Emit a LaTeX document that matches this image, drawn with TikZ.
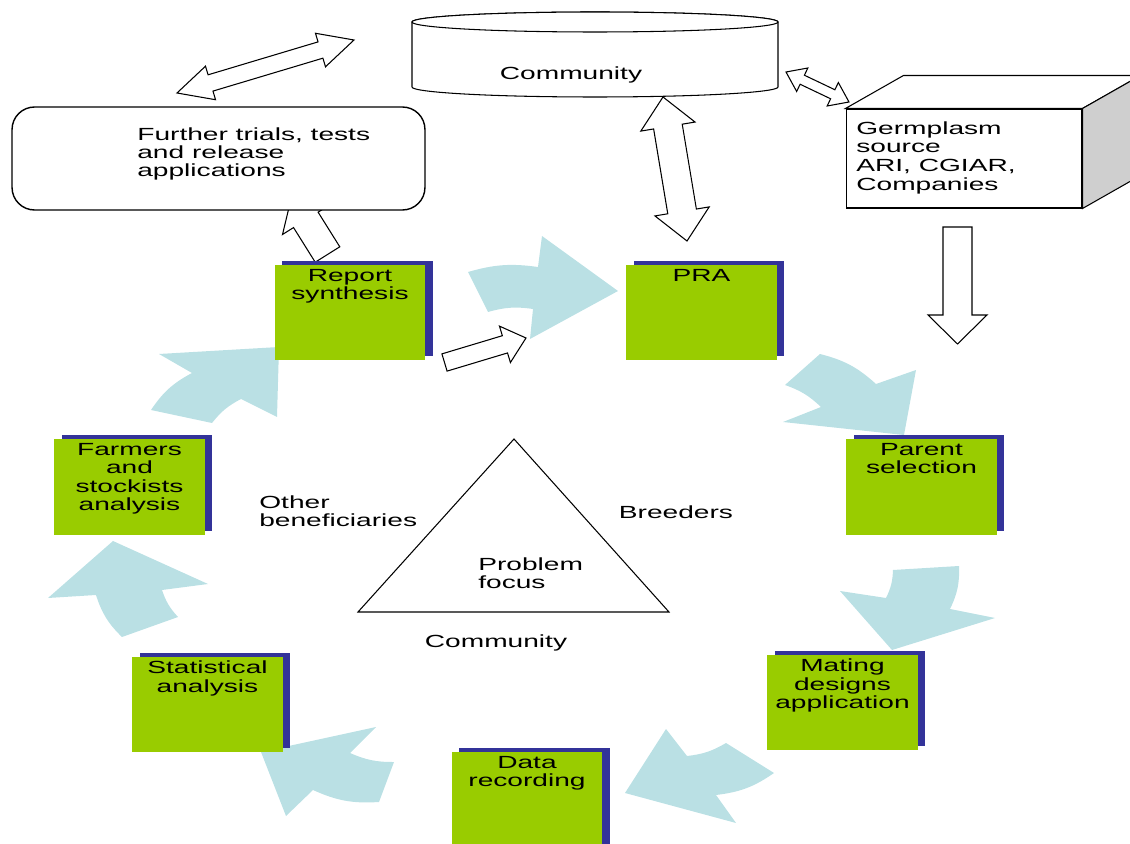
\documentclass[tikz,border=0pt]{standalone}
\usepackage{fontspec}
\setmainfont{Liberation Sans}[FakeStretch=1.6]
\usepackage{tikz}
\usetikzlibrary{calc,shadows,positioning}
\definecolor{stagegreen}{HTML}{99CC00}
\definecolor{stageshadow}{HTML}{333399}
\definecolor{cycblue}{HTML}{BAE0E4}
\definecolor{sidegray}{HTML}{CFCFCF}
\tikzset{
  outline/.style={draw=black, line width=0.6pt, fill=white, line join=miter},
  stage/.style={fill=stagegreen, minimum width=3.02cm, minimum height=1.92cm, inner sep=0pt,
    drop shadow={shadow xshift=0.15cm, shadow yshift=0.08cm, fill=stageshadow, opacity=1}},
  stagelbl/.style={anchor=north, align=center, inner sep=2.6pt},
  cyc/.style={fill=cycblue, draw=none},
  txt/.style={inner sep=0pt, align=left},
}
\newcommand{\blockarr}[5]{%
  \coordinate (ba-h) at ($(#2)!#5!(#1)$);
  \draw[outline] ($(#1)!#3!90:(#2)$) -- ($(ba-h)!#3!90:(#2)$) -- ($(ba-h)!#4!90:(#2)$) -- (#2)
    -- ($(ba-h)!#4!-90:(#2)$) -- ($(ba-h)!#3!-90:(#2)$) -- ($(#1)!#3!-90:(#2)$) -- cycle;
}
\newcommand{\dblarr}[5]{%
  \coordinate (da-a) at ($(#1)!#5!(#2)$);
  \coordinate (da-b) at ($(#2)!#5!(#1)$);
  \draw[outline] (#1) -- ($(da-a)!#4!90:(#2)$) -- ($(da-a)!#3!90:(#2)$) -- ($(da-b)!#3!90:(#2)$)
    -- ($(da-b)!#4!90:(#2)$) -- (#2) -- ($(da-b)!#4!-90:(#2)$) -- ($(da-b)!#3!-90:(#2)$)
    -- ($(da-a)!#3!-90:(#2)$) -- ($(da-a)!#4!-90:(#2)$) -- cycle;
}

\begin{document}
\begin{tikzpicture}[x=0.02cm, y=-0.02cm, font=\fontsize{10}{10.4}\selectfont]
  \useasboundingbox (0,0) rectangle (1130,844);
  \fill[cyc] (618,291) -- (542,236) -- (538,267) to[bend right=12] (468,272) -- (488,312) to[bend left=12] (533,309) -- (530,339) -- cycle;
  \fill[cyc] (904,435) -- (916,370) -- (876,384) to[bend right=14] (820,354) -- (785,385) to[bend left=12] (821,407) -- (783,422) -- cycle;
  \fill[cyc] (892,650) -- (995,618) -- (950,609) to[bend right=14] (959,566) -- (893,570) to[bend left=12] (886,598) -- (840,591) -- cycle;
  \fill[cyc] (625,793) -- (736,823) -- (716,795) to[bend right=14] (774,773) -- (726,743) to[bend left=12] (687,756) -- (666,729) -- cycle;
  \fill[cyc] (261,752) -- (286,816) -- (313,790) to[bend right=14] (379,802) -- (394,762) to[bend left=12] (350,753) -- (376,727) -- cycle;
  \fill[cyc] (113,541) -- (48,598) -- (96,595) to[bend right=14] (122,637) -- (178,617) to[bend left=12] (162,590) -- (208,584) -- cycle;
  \fill[cyc] (279,347) -- (159,354) -- (192,373) to[bend right=14] (151,410) -- (212,423) to[bend left=12] (241,399) -- (277,417) -- cycle;

  \coordinate (rep-out) at (327.5,254.5);
  \coordinate (trials-in) at (291.5,197);
  \blockarr{rep-out}{trials-in}{0.29cm}{0.55cm}{0.54cm}
  \node[outline, rounded corners=0.45cm, line width=0.8pt, minimum width=8.26cm, minimum height=2.06cm] (trials) at (218.5,158.5) {};
  \node[txt, anchor=north west] (trialstxt) at (137,127) {Further trials, tests\\and release\\applications};

  \filldraw[outline] (412,22) -- (412,87) arc[start angle=180, end angle=0, x radius=183, y radius=10] -- (778,22)
    arc[start angle=0, end angle=-180, x radius=183, y radius=10] -- cycle;
  \draw[outline] (595,22) ellipse[x radius=183, y radius=10];
  \node[anchor=base, inner sep=0pt] (cyltxt) at (571,80) {Community};

  \node[outline, minimum width=4.72cm, minimum height=1.98cm] (germ) at (964,158.5) {};
  \draw[outline] (germ.north west) -- ++(58,-33) -- ($(germ.north east)+(58,-33)$) -- (germ.north east) -- cycle;
  \draw[outline, fill=sidegray] (germ.north east) -- ++(58,-33) -- ($(germ.south east)+(58,-33)$) -- (germ.south east) -- cycle;
  \node[txt, anchor=north west, font=\fontsize{10}{10.7}\selectfont] (germtxt) at (856,121) {Germplasm\\source\\ARI, CGIAR,\\Companies};

  \coordinate (c1) at (177,93);
  \coordinate (c2) at (354,40);
  \dblarr{c1}{c2}{0.17cm}{0.35cm}{0.7cm}
  \coordinate (c3) at (663,97);
  \coordinate (c4) at (687,241);
  \dblarr{c3}{c4}{0.29cm}{0.55cm}{0.6cm}
  \coordinate (c5) at (786,72);
  \coordinate (c6) at (849,102);
  \dblarr{c5}{c6}{0.1cm}{0.26cm}{0.36cm}
  \coordinate (g1) at (957.5,227);
  \coordinate (g2) at (957.5,344);
  \blockarr{g1}{g2}{0.29cm}{0.59cm}{0.58cm}
  \coordinate (r1) at (444.5,362.5);
  \coordinate (r2) at (526,338);
  \blockarr{r1}{r2}{0.18cm}{0.38cm}{0.44cm}

  \node[stage, label={[stagelbl]north:Report\\synthesis}] (rep) at (350,312.5) {};
  \node[stage, label={[stagelbl]north:PRA}] (pra) at (701.5,312.5) {};
  \node[stage, label={[stagelbl]north:Parent\\selection}] (par) at (921.5,487) {};
  \node[stage, label={[stagelbl]north:Mating\\designs\\application}] (mat) at (842.5,702.5) {};
  \node[stage, label={[stagelbl]north:Data\\recording}] (dat) at (527,800) {};
  \node[stage, label={[stagelbl]north:Statistical\\analysis}] (sta) at (207.5,704.5) {};
  \node[stage, label={[stagelbl]north:Farmers\\and\\stockists\\analysis}] (far) at (129.5,487) {};

  \coordinate (t1) at (358,612);
  \coordinate (t2) at (514,439);
  \coordinate (t3) at (669,612);
  \draw[outline, fill=none] (t1) -- (t2) -- (t3) -- cycle;
  \node[txt, anchor=north west] (other) at (259,495) {Other\\beneficiaries};
  \node[anchor=base, inner sep=0pt] (breed) at (676,519) {Breeders};
  \node[txt, anchor=north west] (focus) at (478,557) {Problem\\focus};
  \node[anchor=base, inner sep=0pt] (commbot) at (496,647) {Community};
\end{tikzpicture}
\end{document}
